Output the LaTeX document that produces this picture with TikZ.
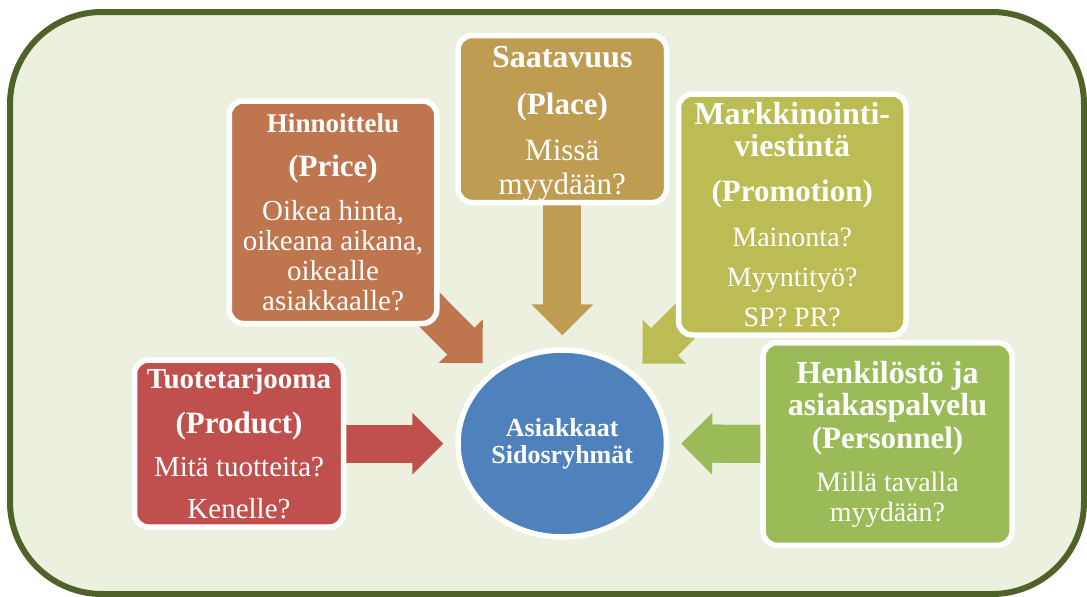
\documentclass[tikz,border=0pt]{standalone}
\usepackage{fontspec}
\setmainfont{Liberation Serif}
\usepackage{tikz}
\usetikzlibrary{arrows.meta,shapes.geometric}
\definecolor{frameline}{HTML}{4F6228}
\definecolor{framefill}{HTML}{EBF1DE}
\definecolor{pricecol}{HTML}{BF764F}
\definecolor{placecol}{HTML}{BE9C52}
\definecolor{promocol}{HTML}{BBBD54}
\definecolor{prodcol}{HTML}{C0504D}
\definecolor{perscol}{HTML}{9BBB59}
\definecolor{hubcol}{HTML}{4F81BD}
\pgfdeclarelayer{frame}
\pgfdeclarelayer{links}
\pgfsetlayers{frame,links,main}
\newcommand{\phead}[2]{{\fontsize{#1}{30}\selectfont\bfseries #2}}
\tikzset{pbox/.style={rectangle,rounded corners=14pt,draw=white,line width=5.5pt,
  inner sep=0pt,text=white,align=center},
  hub/.style={ellipse,draw=white,fill=hubcol,line width=5.5pt,inner sep=0pt,
  text=white,align=center,font=\fontsize{26}{27}\selectfont\bfseries},
  flow/.style={line width=38pt,shorten >=34pt,postaction={draw,shorten >=12pt,
  -{Triangle[width=62pt,length=31pt,line width=0pt]}}}}

\begin{document}
\begin{tikzpicture}[x=1pt,y=-1pt]
 \useasboundingbox (0,0) rectangle (1087,597);
 \begin{pgfonlayer}{frame}
  \draw[frameline,fill=framefill,line width=6pt,rounded corners=92pt]
   (10,12) rectangle (1084,594);
 \end{pgfonlayer}
 \node[pbox,fill=pricecol,minimum width=207.5pt,minimum height=222.5pt,
  font=\fontsize{29}{30}\selectfont] (price) at (333,212.25)
  {\phead{27}{Hinnoittelu}\\[14pt]\phead{31}{(Price)}\\[14pt]
   Oikea hinta,\\oikeana aikana,\\oikealle\\asiakkaalle?};
 \node[pbox,fill=placecol,minimum width=208.5pt,minimum height=167pt,
  font=\fontsize{31}{34}\selectfont] (place) at (562.25,119)
  {\phead{32}{Saatavuus}\rule{0pt}{31pt}\\[13pt]\phead{31}{(Place)}\\[12pt]Missä\\myydään?};
 \node[pbox,fill=promocol,minimum width=227.5pt,minimum height=241pt,
  font=\fontsize{28}{32}\selectfont] (promo) at (792.25,214.5)
  {\phead{32}{Markkinointi-}\\\phead{32}{viestintä}\\[13pt]\phead{31}{(Promotion)}\\[13pt]
   Mainonta?\\[8pt]Myyntityö?\\[8pt]SP? PR?};
 \node[pbox,fill=prodcol,minimum width=209pt,minimum height=167pt,
  font=\fontsize{29}{30}\selectfont] (product) at (239,443.5)
  {\phead{29}{Tuotetarjooma}\\[15pt]\phead{31}{(Product)}\\[13pt]
   Mitä tuotteita?\\[12pt]Kenelle?};
 \node[pbox,fill=perscol,minimum width=249pt,minimum height=202.5pt,
  font=\fontsize{28}{30}\selectfont] (staff) at (887.5,444)
  {\phead{32}{Henkilöstö ja}\\[2pt]\phead{32}{asiakaspalvelu}\\[3pt]\phead{31}{(Personnel)}\\[13pt]
   Millä tavalla\\myydään?};
 \node[hub,minimum width=208.5pt,minimum height=187pt] (hub) at (562.25,443.5)
  {Asiakkaat\\Sidosryhmät};
 \begin{pgfonlayer}{links}
  \draw[flow,pricecol] (price.center)--(hub);\draw[flow,placecol] (place.center)--(hub);
  \draw[flow,promocol] (promo.center)--(hub);\draw[flow,prodcol] (product.center)--(hub);
  \draw[flow,perscol] (staff.center)--(hub);
 \end{pgfonlayer}
\end{tikzpicture}
\end{document}
